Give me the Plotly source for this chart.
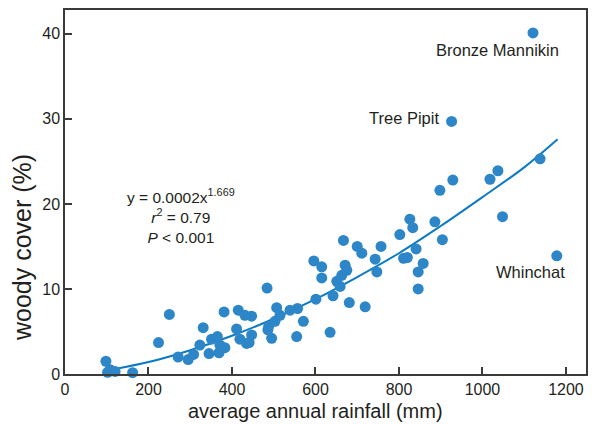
import plotly.graph_objects as go

# Species data: average annual rainfall (mm) vs woody cover (%)
rainfall = [98, 102, 108, 120, 162, 224, 250, 271, 295, 308, 323, 331, 345, 351, 365,
            371, 369, 383, 381, 411, 415, 419, 431, 447, 441, 447, 435, 484, 486, 488,
            495, 503, 507, 515, 539, 557, 571, 555, 596, 601, 615, 615, 635, 642, 651,
            659, 663, 667, 671, 675, 681, 700, 711, 719, 743, 747, 757, 802, 811, 820,
            826, 833, 841, 846, 846, 858, 886, 898, 904, 926, 929, 1018, 1037, 1048,
            1121, 1138, 1178]
woody = [1.5, 0.2, 0.5, 0.3, 0.15, 3.7, 7.0, 2.0, 1.7, 2.3, 3.4, 5.45, 2.4, 4.1, 4.4,
         3.4, 2.5, 3.1, 7.3, 5.3, 7.5, 4.1, 6.9, 6.8, 3.7, 4.6, 3.6, 10.1, 5.2, 5.6,
         4.2, 6.2, 7.8, 6.9, 7.5, 7.7, 6.2, 4.4, 13.3, 8.8, 12.6, 11.3, 4.9, 9.2, 10.9,
         10.3, 11.6, 15.7, 12.8, 12.2, 8.4, 15.0, 14.2, 7.9, 13.5, 12.0, 15.0, 16.4, 13.6, 13.7,
         18.2, 17.2, 14.7, 12.0, 10.0, 13.0, 17.9, 21.6, 15.8, 29.7, 22.8, 22.9, 23.9, 18.5,
         40.1, 25.3, 13.9]

# Fitted power curve
fit_x = [120, 200, 300, 400, 500, 600, 700, 800, 900, 1000, 1100, 1180]
fit_y = [0.6, 1.4, 2.8, 4.5, 6.5, 8.8, 11.4, 14.2, 17.4, 20.8, 24.3, 27.6]

# Labelled species
label_names = ["Bronze Mannikin", "Tree Pipit", "Whinchat"]
label_x = [1121, 926, 1178]
label_y = [40.1, 29.7, 13.9]

x_ticks = [0, 200, 400, 600, 800, 1000, 1200]
y_ticks = [0, 10, 20, 30, 40]

FONT = "Liberation Sans, Arial, sans-serif"
TXT = "#231f20"
DOT = "#2d86c7"
LINE = "#0b79c4"
AX = "#3a3a3a"

L, R, T, B = 65, 12, 10, 51
W, H = 598, 425
PW, PH = W - L - R, H - T - B

fig = go.Figure()
fig.add_trace(go.Scatter(x=fit_x, y=fit_y, mode="lines", line=dict(color=LINE, width=2, shape="spline"),
                         hoverinfo="skip", showlegend=False))
fig.add_trace(go.Scatter(x=rainfall, y=woody, mode="markers",
                         marker=dict(color=DOT, size=11, line=dict(width=0)),
                         cliponaxis=False, showlegend=False))

shifts = [(-35, -17, "center"), (-11, 3, "right"), (-26, -16, "center")]
for name, lx, ly, (dx, dy, anc) in zip(label_names, label_x, label_y, shifts):
    fig.add_annotation(x=lx, y=ly, text=name, showarrow=False, xanchor=anc, yanchor="middle",
                       xshift=dx, yshift=dy, font=dict(family=FONT, size=16.5, color=TXT))

fig.add_annotation(xref="paper", yref="paper", x=(181 - L) / PW, y=(374 - 216) / PH,
                   text="y = 0.0002x<sup>1.669</sup><br><i>r</i><sup>2</sup> = 0.79<br><i>P</i> &lt; 0.001",
                   showarrow=False, align="center", xanchor="center", yanchor="middle",
                   font=dict(family=FONT, size=15.5, color=TXT))

# Axis titles placed as paper annotations
fig.add_annotation(xref="paper", yref="paper", x=(315 - L) / PW, y=(374 - 411) / PH,
                   text="average annual rainfall (mm)", showarrow=False,
                   xanchor="center", yanchor="middle", font=dict(family=FONT, size=20, color=TXT))
fig.add_annotation(xref="paper", yref="paper", x=(22 - L) / PW, y=(374 - 248) / PH,
                   text="woody cover (%)", showarrow=False, textangle=-90,
                   xanchor="center", yanchor="middle", font=dict(family=FONT, size=25, color=TXT))

axis_common = dict(showgrid=False, zeroline=False, showline=True, linecolor=AX, linewidth=1.5,
                   mirror=True, ticks="inside", ticklen=7, tickwidth=1.5, tickcolor=AX,
                   automargin=False, tickfont=dict(family=FONT, size=16, color=TXT))

fig.update_layout(
    width=W, height=H,
    margin=dict(l=L, r=R, t=T, b=B, autoexpand=False),
    paper_bgcolor="white", plot_bgcolor="white",
    xaxis=dict(range=[0, 1248], tickmode="array", tickvals=x_ticks, **axis_common),
    yaxis=dict(range=[0, 42.8], tickmode="array", tickvals=y_ticks, **axis_common),
)

fig.write_html("out.html", config={"displayModeBar": False},
               post_script="document.body.style.margin='0';document.body.style.padding='0';")
